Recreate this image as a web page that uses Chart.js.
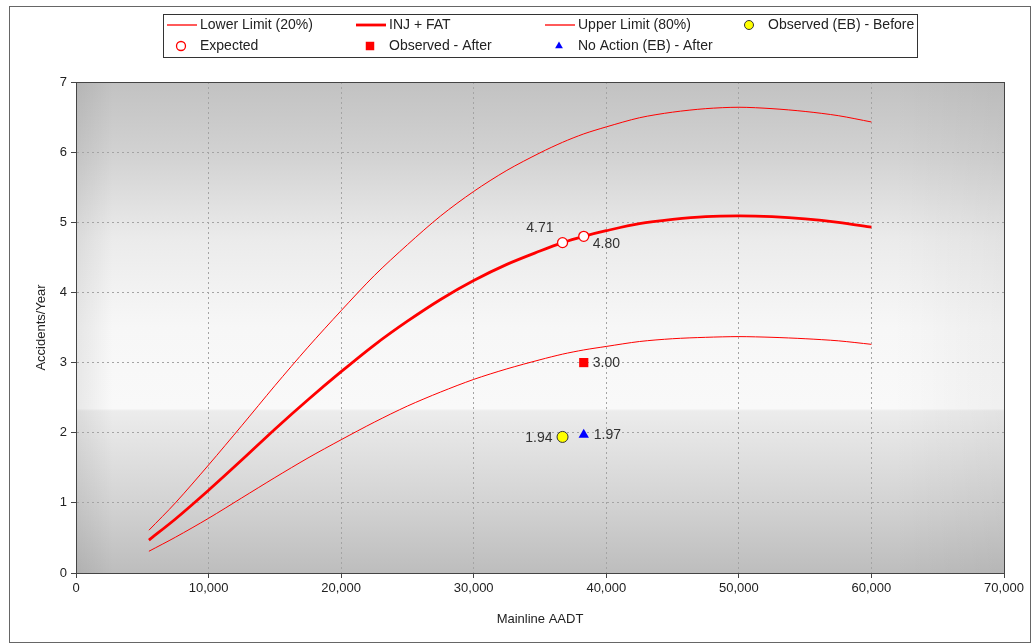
<!DOCTYPE html>
<html>
<head>
<meta charset="utf-8">
<title>Accidents/Year vs Mainline AADT</title>
<script src="https://cdn.jsdelivr.net/npm/chart.js@4/dist/chart.umd.min.js"></script>
<style>
    html, body { margin: 0; padding: 0; background: #fff; }
    #wrap { position: relative; width: 1031px; height: 643px; }
</style>
</head>
<body>
<div id="wrap"><canvas id="spf-chart" width="1031" height="643"></canvas></div>
<script>
// Safety performance curve (INJ + FAT) with 20% / 80% limits
const aadt = [5500, 7500, 10000, 12500, 15000, 17500, 20000, 22500, 25000, 27500, 30000, 32500,
    35000, 36700, 38300, 40000, 42500, 45000, 47500, 50000, 52500, 55000, 57500, 60000];
const injFat = [0.47, 0.77, 1.18, 1.61, 2.05, 2.47, 2.87, 3.25, 3.59, 3.90, 4.17, 4.40,
    4.59, 4.71, 4.80, 4.88, 4.98, 5.04, 5.08, 5.09, 5.08, 5.05, 5.00, 4.93];
const upperLimit = [0.61, 1.00, 1.54, 2.10, 2.67, 3.22, 3.74, 4.24, 4.68, 5.09, 5.44, 5.74,
    5.99, 6.14, 6.26, 6.36, 6.49, 6.57, 6.62, 6.64, 6.62, 6.58, 6.52, 6.43];
const lowerLimit = [0.31, 0.51, 0.78, 1.07, 1.36, 1.64, 1.90, 2.15, 2.38, 2.58, 2.76, 2.91,
    3.04, 3.12, 3.18, 3.23, 3.30, 3.34, 3.36, 3.37, 3.36, 3.34, 3.31, 3.26];

// Site points
const expectedAadt = [36700, 38300];
const expectedVals = [4.71, 4.80];
const obsBeforeAadt = [36700];
const obsBeforeVals = [1.94];
const obsAfterAadt = [38300];
const obsAfterVals = [3.00];
const noActionAadt = [38300];
const noActionVals = [1.97];

const xTicks = [0, 10000, 20000, 30000, 40000, 50000, 60000, 70000];
const yTicks = [0, 1, 2, 3, 4, 5, 6, 7];

const RED = '#ff0000';
const FONT = '"Liberation Sans", Arial, sans-serif';

const toPoints = (xs, ys) => xs.map((x, i) => ({ x: x, y: ys[i] }));

const curve = (label, values, width) => ({
    label: label,
    data: toPoints(aadt, values),
    showLine: true,
    borderColor: RED,
    backgroundColor: RED,
    borderWidth: width,
    pointRadius: 0,
    tension: 0.3,
    order: 2
});

const marker = (label, xs, ys, style, radius, fill, stroke, bw) => ({
    label: label,
    data: toPoints(xs, ys),
    showLine: false,
    pointStyle: style,
    pointRadius: radius,
    pointHoverRadius: radius,
    backgroundColor: fill,
    borderColor: stroke,
    borderWidth: bw,
    order: 0
});

// legend order follows dataset order
const datasets = [
    curve('Lower Limit (20%)', lowerLimit, 1),
    curve('INJ + FAT', injFat, 2.8),
    curve('Upper Limit (80%)', upperLimit, 1),
    marker('Observed (EB) - Before', obsBeforeAadt, obsBeforeVals, 'circle', 5.5, '#ffff00', '#333333', 1),
    marker('Expected', expectedAadt, expectedVals, 'circle', 5, '#ffffff', RED, 1.3),
    marker('Observed - After', obsAfterAadt, obsAfterVals, 'rect', 6.5, RED, RED, 0),
    marker('No Action (EB) - After', noActionAadt, noActionVals, 'triangle', 6, '#0000ff', '#0000ff', 0)
];

// value labels: dataset index, point index, offset and alignment
const valueLabels = [
    { ds: 4, i: 0, dx: -9, dy: -14, align: 'right' },
    { ds: 4, i: 1, dx: 9, dy: 8, align: 'left' },
    { ds: 5, i: 0, dx: 9, dy: 1, align: 'left' },
    { ds: 3, i: 0, dx: -10, dy: 1, align: 'right' },
    { ds: 6, i: 0, dx: 10, dy: 0, align: 'left' }
];

const backdrop = {
    id: 'backdrop',
    beforeDraw(chart) {
        const { ctx, chartArea: a } = chart;
        ctx.save();
        ctx.fillStyle = '#ffffff';
        ctx.fillRect(0, 0, chart.width, chart.height);

        const g = ctx.createLinearGradient(0, a.top, 0, a.bottom);
        g.addColorStop(0, '#c2c2c2');
        g.addColorStop(0.15, '#d2d2d2');
        g.addColorStop(0.32, '#ebebeb');
        g.addColorStop(0.5, '#f7f7f7');
        g.addColorStop(0.665, '#f9f9f9');
        g.addColorStop(0.67, '#ececec');
        g.addColorStop(0.85, '#d4d4d4');
        g.addColorStop(1, '#bdbdbd');
        ctx.fillStyle = g;
        ctx.fillRect(a.left, a.top, a.width, a.height);

        // slight darkening toward the side edges
        const h = ctx.createLinearGradient(a.left, 0, a.right, 0);
        h.addColorStop(0, 'rgba(0,0,0,0.07)');
        h.addColorStop(0.04, 'rgba(0,0,0,0)');
        h.addColorStop(0.88, 'rgba(0,0,0,0)');
        h.addColorStop(1, 'rgba(0,0,0,0.04)');
        ctx.fillStyle = h;
        ctx.fillRect(a.left, a.top, a.width, a.height);
        ctx.restore();
    },
    afterDraw(chart) {
        const { ctx, chartArea: a } = chart;
        ctx.save();
        ctx.strokeStyle = '#444';
        ctx.lineWidth = 1;
        ctx.strokeRect(a.left + 0.5, a.top + 0.5, a.width, a.height);
        // outer frame
        ctx.strokeStyle = '#666';
        ctx.strokeRect(9.5, 6.5, chart.width - 10, chart.height - 7);
        ctx.restore();
    }
};

const pointLabels = {
    id: 'pointLabels',
    afterDatasetsDraw(chart) {
        const ctx = chart.ctx;
        ctx.save();
        ctx.font = '14px ' + FONT;
        ctx.fillStyle = '#333';
        ctx.textBaseline = 'middle';
        valueLabels.forEach(l => {
            const el = chart.getDatasetMeta(l.ds).data[l.i];
            const v = chart.data.datasets[l.ds].data[l.i].y;
            ctx.textAlign = l.align;
            ctx.fillText(v.toFixed(2), el.x + l.dx, el.y + l.dy);
        });
        ctx.restore();
    }
};

// boxed legend, four fixed columns by two rows
const boxLegend = {
    id: 'boxLegend',
    afterDraw(chart) {
        const ctx = chart.ctx;
        const cols = [167, 356, 545, 735];
        const rows = [25, 46];
        ctx.save();
        ctx.setLineDash([]);
        ctx.fillStyle = '#fff';
        ctx.fillRect(163, 14, 754, 43);
        ctx.strokeStyle = '#333';
        ctx.lineWidth = 1;
        ctx.strokeRect(163.5, 14.5, 754, 43);

        ctx.font = '14px ' + FONT;
        ctx.textBaseline = 'middle';
        ctx.textAlign = 'left';
        chart.data.datasets.forEach((ds, n) => {
            const x = cols[n % 4];
            const y = rows[Math.floor(n / 4)];
            if (ds.showLine) {
                ctx.strokeStyle = ds.borderColor;
                ctx.lineWidth = Math.max(ds.borderWidth, 1.3);
                ctx.beginPath();
                ctx.moveTo(x, y);
                ctx.lineTo(x + 30, y);
                ctx.stroke();
            } else {
                ctx.fillStyle = ds.backgroundColor;
                ctx.strokeStyle = ds.borderColor;
                ctx.lineWidth = ds.borderWidth;
                Chart.helpers.drawPoint(ctx, {
                    pointStyle: ds.pointStyle,
                    radius: ds.pointStyle === 'rect' ? 6 : 4.5,
                    borderWidth: ds.borderWidth,
                    rotation: 0
                }, x + 14, y);
            }
            ctx.fillStyle = '#222';
            ctx.fillText(ds.label, x + 33, y);
        });
        ctx.restore();
    }
};

new Chart(document.getElementById('spf-chart'), {
    type: 'scatter',
    data: { datasets: datasets },
    options: {
        responsive: false,
        animation: false,
        layout: { padding: { top: 82, left: 30, right: 27, bottom: 12 } },
        plugins: {
            legend: { display: false },
            tooltip: { enabled: false }
        },
        scales: {
            x: {
                type: 'linear',
                min: xTicks[0],
                max: xTicks[xTicks.length - 1],
                afterBuildTicks: s => { s.ticks = xTicks.map(v => ({ value: v })); },
                afterFit: s => { s.height = 58; },
                ticks: {
                    color: '#222',
                    font: { family: FONT, size: 13 },
                    padding: 3,
                    maxRotation: 0,
                    callback: v => v.toLocaleString('en-US')
                },
                grid: { color: '#a4a4a4', tickColor: '#444', tickLength: 5 },
                border: { color: '#444', width: 1, dash: [2, 3] },
                title: {
                    display: true,
                    text: 'Mainline AADT',
                    color: '#222',
                    font: { family: FONT, size: 13 },
                    padding: { top: 4, bottom: 4 }
                }
            },
            y: {
                min: yTicks[0],
                max: yTicks[yTicks.length - 1],
                afterBuildTicks: s => { s.ticks = yTicks.map(v => ({ value: v })); },
                afterFit: s => { s.width = 46; },
                ticks: {
                    color: '#222',
                    font: { family: FONT, size: 13 },
                    padding: 4
                },
                grid: { color: '#a4a4a4', tickColor: '#444', tickLength: 5 },
                border: { color: '#444', width: 1, dash: [2, 3] },
                title: {
                    display: true,
                    text: 'Accidents/Year',
                    color: '#222',
                    font: { family: FONT, size: 13 },
                    padding: { top: 4, bottom: 4 }
                }
            }
        }
    },
    plugins: [backdrop, pointLabels, boxLegend]
});
</script>
</body>
</html>
